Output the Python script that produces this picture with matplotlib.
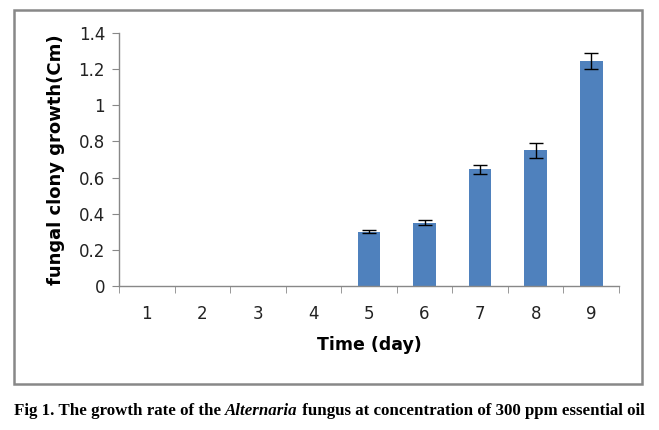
import matplotlib.pyplot as plt
from matplotlib.patches import Rectangle
import numpy as np

days = [1, 2, 3, 4, 5, 6, 7, 8, 9]
growth = [0, 0, 0, 0, 0.30, 0.35, 0.645, 0.75, 1.245]
err = [0, 0, 0, 0, 0.008, 0.015, 0.025, 0.039, 0.042]
yticks = [0, 0.2, 0.4, 0.6, 0.8, 1.0, 1.2, 1.4]
ylabels = ['0', '0.2', '0.4', '0.6', '0.8', '1', '1.2', '1.4']

plt.rcParams['font.family'] = ['DejaVu Sans']

fig = plt.figure(figsize=(6.59, 4.30), dpi=100)
ax = fig.add_axes([119/659, 1 - 286/430, 500/659, 253/430])

ax.bar(days, growth, width=0.41, color='#4F81BD', zorder=2)
d = np.array(days)
g = np.array(growth)
e = np.array(err)
m = e > 0
ax.errorbar(d[m], g[m], yerr=e[m], fmt='none', ecolor='black',
            elinewidth=1, capsize=5, capthick=1, zorder=3)

ax.set_xlim(0.5, 9.5)
ax.set_ylim(0, 1.4)
ax.set_yticks(yticks)
ax.set_yticklabels(ylabels, fontsize=12, color='#222222')
ax.set_xticks(days)
ax.set_xticklabels([str(x) for x in days], fontsize=12, color='#222222')
ax.set_xticks(np.arange(0.5, 10, 1), minor=True)
ax.tick_params(axis='x', which='major', length=0, pad=14)
ax.tick_params(axis='x', which='minor', length=5, color='#888888', direction='out')
ax.tick_params(axis='y', length=5, color='#888888', pad=5)

for s in ['top', 'right']:
    ax.spines[s].set_visible(False)
for s in ['left', 'bottom']:
    ax.spines[s].set_color('#888888')
    ax.spines[s].set_linewidth(1)

ax.set_ylabel('fungal clony growth(Cm)', fontsize=13, fontweight='bold', labelpad=10)
ax.set_xlabel('Time (day)', fontsize=12.5, fontweight='bold', labelpad=9)

# outer chart frame
fig.patches.append(Rectangle((14/659, 1 - 384/430), 628/659, 374/430,
                             transform=fig.transFigure, fill=False,
                             edgecolor='#888888', linewidth=1.8))

# caption with italic species name
parts = [('Fig 1. The growth rate of the ', 'normal'),
         ('Alternaria', 'italic'),
         (' fungus at concentration of 300 ppm essential oil', 'normal')]
fig.canvas.draw()
r = fig.canvas.get_renderer()
texts = []
for s, st in parts:
    t = fig.text(0, 1 - 411/430, s, fontsize=12.2, fontweight='bold', style=st,
                 family=['Liberation Serif'], va='center', ha='left')
    texts.append(t)
widths = [t.get_window_extent(r).width / fig.bbox.width for t in texts]
x0 = (329 / 659) - sum(widths) / 2
for t, w in zip(texts, widths):
    t.set_x(x0)
    x0 += w

fig.savefig('out.png', dpi=100)
